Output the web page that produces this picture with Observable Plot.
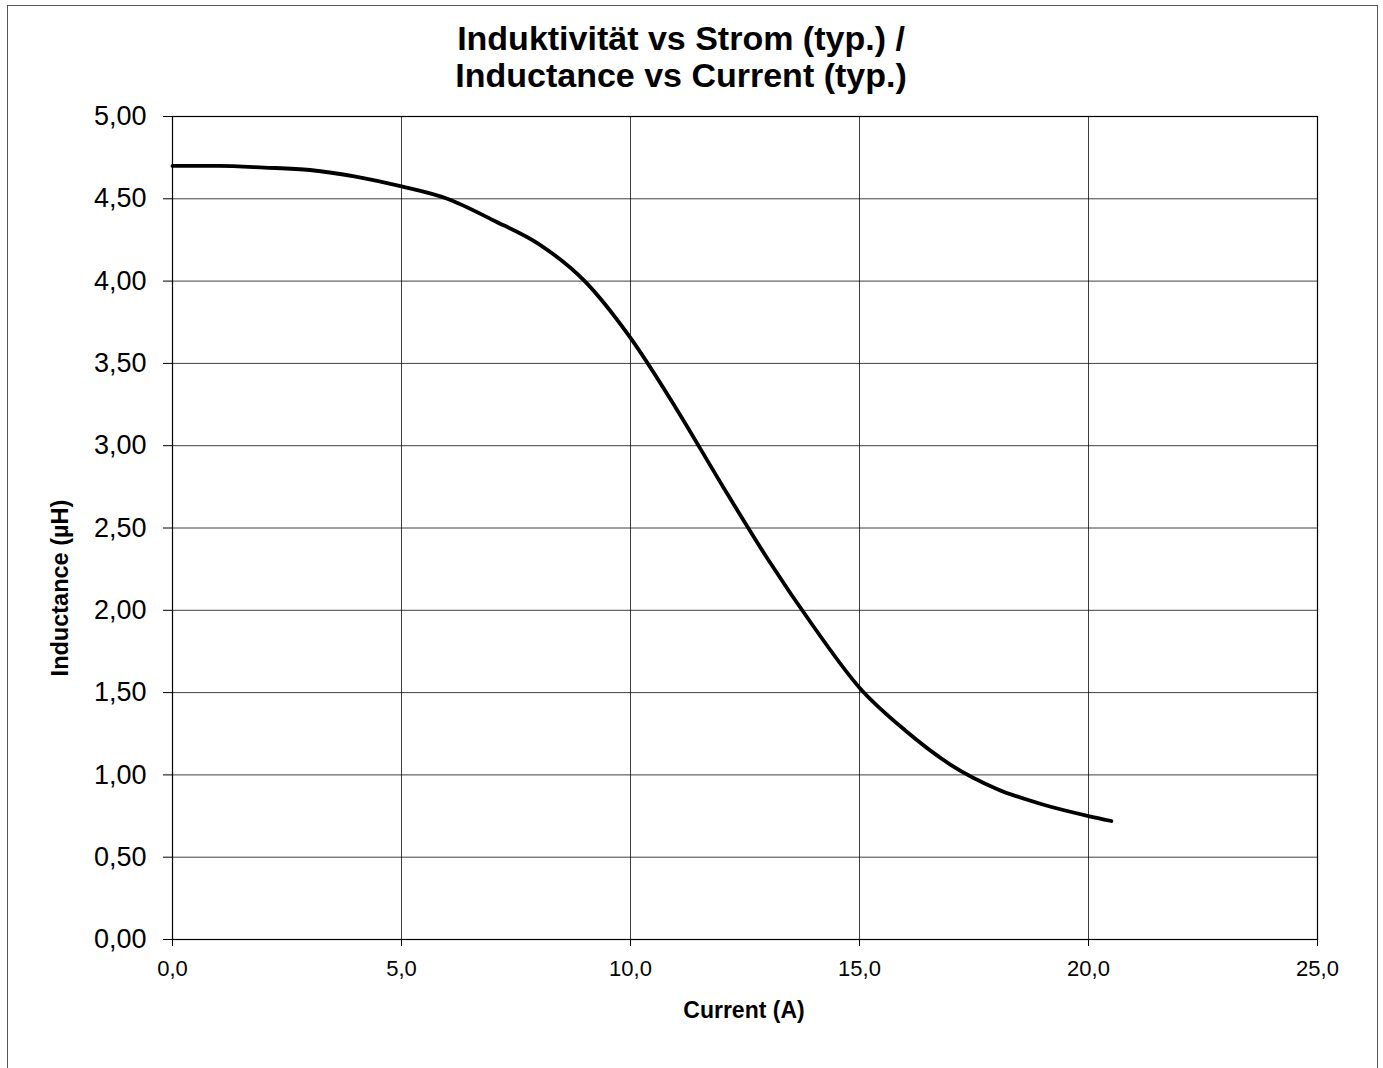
<!DOCTYPE html>
<html>
<head>
<meta charset="utf-8">
<script src="https://cdn.jsdelivr.net/npm/d3@7"></script>
<script src="https://cdn.jsdelivr.net/npm/@observablehq/plot@0.6"></script>
<style>
  html, body { margin: 0; padding: 0; background: #fff; }
  #wrap { position: relative; width: 1383px; height: 1068px; overflow: hidden; font-family: "Liberation Sans", Arial, sans-serif; }
  #border { position: absolute; left: 7px; top: 5px; width: 1371px; height: 1100px; border: 1.5px solid #555; box-sizing: border-box; }
  #title { position: absolute; left: 381px; width: 600px; top: 20px; text-align: center; font-weight: bold; font-size: 34px; line-height: 37px; color: #000; }
  #xlabel { position: absolute; left: 644px; width: 200px; top: 997px; text-align: center; font-weight: bold; font-size: 23px; color: #000; }
  #ylabel { position: absolute; left: 60px; top: 588px; transform: translate(-50%, -50%) rotate(-90deg); white-space: nowrap; font-weight: bold; font-size: 23.5px; color: #000; }
  #chart { position: absolute; left: 0; top: 0; }
</style>
</head>
<body>
<div id="wrap">
  <div id="border"></div>
  <div id="chart"></div>
  <div id="title">Induktivität vs Strom (typ.) /<br>Inductance vs Current (typ.)</div>
  <div id="xlabel">Current (A)</div>
  <div id="ylabel">Inductance (µH)</div>
</div>
<script>
// Data
const current = [0, 1, 2, 3, 4, 5, 6, 7, 8, 9, 10, 11, 12, 13, 14, 15, 16, 17, 18, 19, 20, 20.5];
const inductance = [4.70, 4.70, 4.69, 4.675, 4.635, 4.575, 4.50, 4.37, 4.225, 4.00, 3.655, 3.225, 2.76, 2.31, 1.90, 1.53, 1.27, 1.06, 0.915, 0.82, 0.75, 0.72];
const xTicks = [0, 5, 10, 15, 20, 25];
const yTicks = [0, 0.5, 1, 1.5, 2, 2.5, 3, 3.5, 4, 4.5, 5];

const data = current.map((c, i) => ({current: c, inductance: inductance[i]}));
const fmtX = d => d3.format(".1f")(d).replace(".", ",");
const fmtY = d => d3.format(".2f")(d).replace(".", ",");

const chart = Plot.plot({
  width: 1383,
  height: 1068,
  marginLeft: 172,
  marginRight: 66,
  marginTop: 116,
  marginBottom: 129,
  style: { fontFamily: "'Liberation Sans', Arial, sans-serif", color: "#000", background: "transparent" },
  x: { domain: [0, 25] },
  y: { domain: [0, 5] },
  marks: [
    Plot.gridX(xTicks, { stroke: "#000", strokeOpacity: 0.75, strokeWidth: 1 }),
    Plot.gridY(yTicks, { stroke: "#000", strokeOpacity: 0.75, strokeWidth: 1 }),
    Plot.axisX(xTicks, { tickFormat: fmtX, tickSize: 7, tickPadding: 14, fontSize: 22, label: null, stroke: "#000" }),
    Plot.axisY(yTicks, { tickFormat: fmtY, tickSize: 9, tickPadding: 17, fontSize: 27, label: null, stroke: "#000" }),
    Plot.frame({ stroke: "#000", strokeWidth: 1.2 }),
    Plot.line(data, { x: "current", y: "inductance", stroke: "#000", strokeWidth: 3.8, curve: "monotone-x" })
  ]
});
document.getElementById("chart").appendChild(chart);
</script>
</body>
</html>
